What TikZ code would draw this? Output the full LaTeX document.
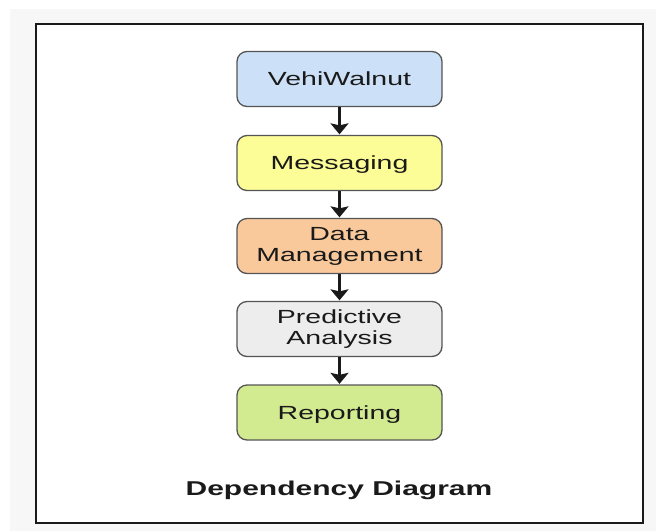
\documentclass[tikz,border=0pt]{standalone}
\usepackage{fontspec}
\setmainfont{Liberation Sans}
\newfontfamily\boxfont[FakeStretch=1.5]{Liberation Sans}
\newfontfamily\titlefont[FakeStretch=1.5]{Liberation Sans}
\usetikzlibrary{arrows.meta}

\definecolor{pagegray}{HTML}{F7F7F7}
\definecolor{boxline}{HTML}{555555}
\definecolor{textgray}{HTML}{1A1A1A}
\definecolor{vehifill}{HTML}{CCE1F7}
\definecolor{msgfill}{HTML}{FDFD98}
\definecolor{datafill}{HTML}{F9C99B}
\definecolor{predfill}{HTML}{EDEDED}
\definecolor{repfill}{HTML}{D2EA90}

\begin{document}
\begin{tikzpicture}
    [x=1pt,y=-1pt,
     box/.style={shape=rectangle,rounded corners=10pt,draw=boxline,line width=1.3pt,
       minimum width=205pt,minimum height=55pt,inner sep=0pt,align=center,
       text=textgray,font=\boxfont\fontsize{19}{21}\selectfont},
     pre/.style={<-,shorten <=0.5pt,>={Stealth[length=11pt,width=18pt,inset=2pt]},
       line width=2.3pt,textgray}]
    \useasboundingbox (0,0) rectangle (656,531);
    \fill [pagegray] (10,9) rectangle (656,531);
    \draw [line width=2pt,textgray,fill=white] (36,24) rectangle (643,523);
    \node [box,fill=vehifill] (vehi) at (339.5,79) {VehiWalnut};
    \node [box,fill=msgfill,text depth=0pt] (msg) at (339.5,163) {Messaging}
      edge [pre] (vehi);
    \node [box,fill=datafill] (data) at (339.5,246) {Data\\Management}
      edge [pre] (msg);
    \node [box,fill=predfill] (pred) at (339.5,329) {Predictive\\Analysis}
      edge [pre] (data);
    \node [box,fill=repfill,text depth=0pt] (rep) at (339.5,412.5) {Reporting}
      edge [pre] (pred);
    \node [anchor=base,text=textgray,font=\titlefont\bfseries\fontsize{20}{22}\selectfont]
      (title) at (339,495) {Dependency Diagram};
  \end{tikzpicture}
\end{document}
